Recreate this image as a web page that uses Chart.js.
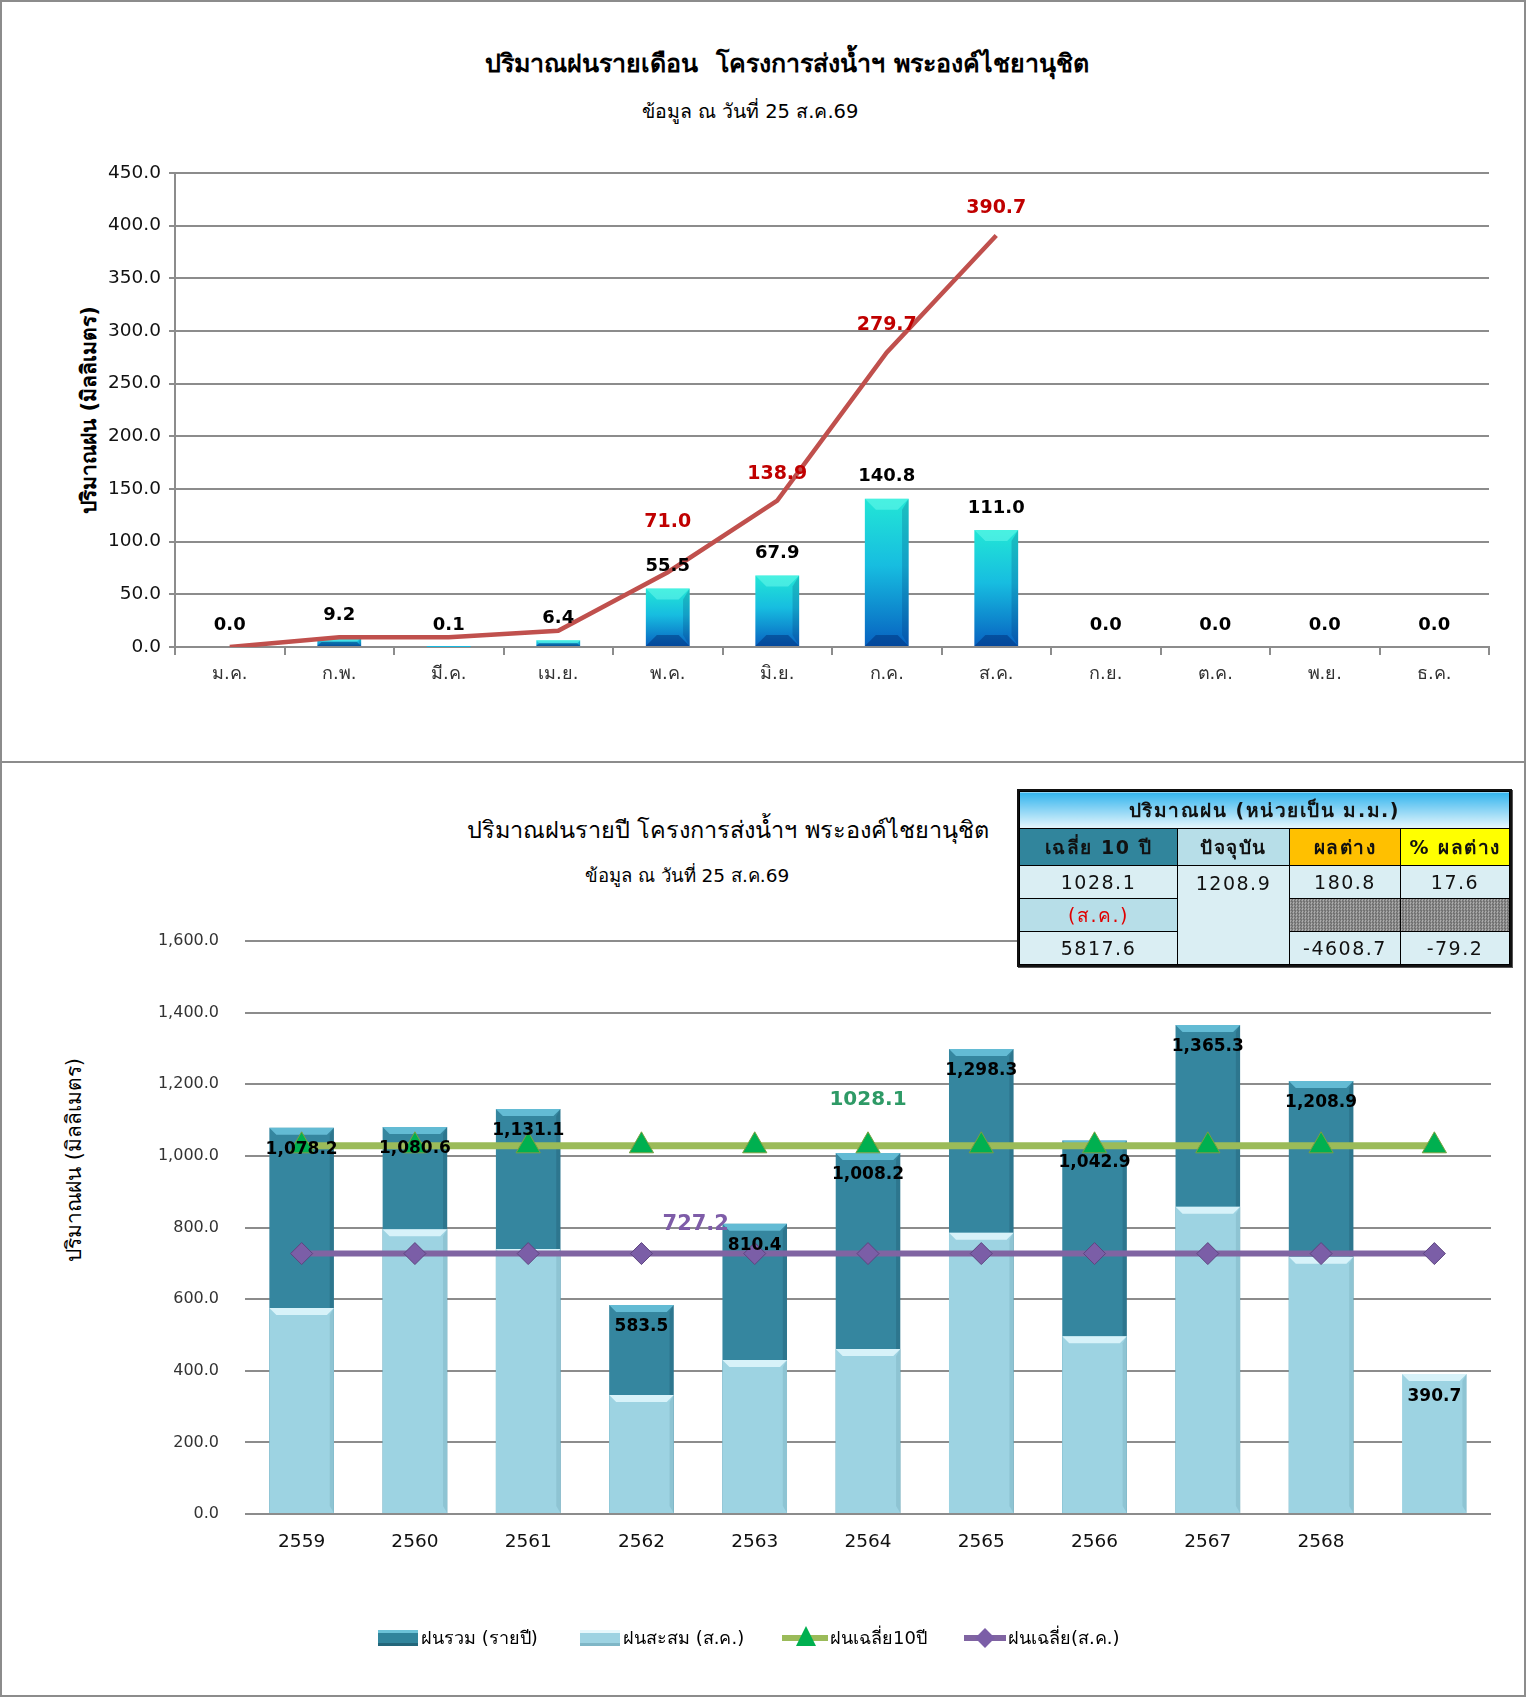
<!DOCTYPE html>
<html>
<head>
<meta charset="utf-8">
<script src="https://cdn.jsdelivr.net/npm/chart.js@4.4.1/dist/chart.umd.min.js"></script>
<style>
  body { margin: 0; background: #fff; font-family: Tahoma, "DejaVu Sans", sans-serif; }
  #page { position: relative; width: 1526px; height: 1697px; box-sizing: border-box; border: 2px solid #8c8c8c; overflow: hidden; }
  .abs { position: absolute; }
  .sep { left: 0; top: 759px; width: 1526px; height: 2px; background: #8c8c8c; }
  .title { text-align: center; white-space: nowrap; color: #000; }
  .ytitle { transform: translate(-50%, -50%) rotate(-90deg); white-space: nowrap; }
  canvas { position: absolute; }
  table { border-collapse: collapse; width: 100%; height: 100%; font-size: 19px; letter-spacing: 1.5px; }
  td { border: 1px solid #000; text-align: center; padding: 0; color: #111; }
  #tbl { left: 1015px; top: 787px; width: 491px; height: 174px; border: 2px solid #111; box-shadow: 1px 1px 0 #555; }
  .hatch { background: repeating-conic-gradient(#555 0 25%, #c8c8c8 0 50%) 0 0 / 3px 3px; }
  #legend { left: 0; top: 1621px; width: 1526px; height: 30px; }
  .lg { position: absolute; top: 0; font-size: 18px; line-height: 30px; white-space: nowrap; }
</style>
</head>
<body>
<div id="page">
  <div class="abs sep"></div>

  <div class="abs title" style="left:385px; top:41px; width:800px; font-size:25px; font-weight:bold;">ปริมาณฝนรายเดือน&nbsp; โครงการส่งน้ำฯ พระองค์ไชยานุชิต</div>
  <div class="abs title" style="left:548px; top:94px; width:400px; font-size:19.5px;">ข้อมูล ณ วันที่ 25 ส.ค.69</div>
  <div class="abs ytitle" style="left:86px; top:408px; font-size:21px; font-weight:bold;">ปริมาณฝน (มิลลิเมตร)</div>
  <canvas id="monthChart" width="1526" height="758" style="left:0; top:0;"></canvas>

  <div class="abs title" style="left:426px; top:809px; width:600px; font-size:23.5px;">ปริมาณฝนรายปี โครงการส่งน้ำฯ พระองค์ไชยานุชิต</div>
  <div class="abs title" style="left:535px; top:859px; width:300px; font-size:18.5px;">ข้อมูล ณ วันที่ 25 ส.ค.69</div>
  <div class="abs ytitle" style="left:71px; top:1158px; font-size:21px;">ปริมาณฝน (มิลลิเมตร)</div>
  <canvas id="yearChart" width="1522" height="935" style="left:0; top:761px;"></canvas>

  <div class="abs" id="tbl">
    <table>
      <tr style="height:37px;"><td colspan="4" style="background:linear-gradient(#33b4ee,#e8f7fc); font-weight:bold;">ปริมาณฝน (หน่วยเป็น ม.ม.)</td></tr>
      <tr style="height:37px; font-weight:bold;">
        <td style="background:#31859c; width:157px;">เฉลี่ย 10 ปี</td>
        <td style="background:#b7dee8; width:111px;">ปัจจุบัน</td>
        <td style="background:#ffc000; width:110px;">ผลต่าง</td>
        <td style="background:#ffff00;">% ผลต่าง</td>
      </tr>
      <tr style="height:32px;">
        <td style="background:#daeef3;">1028.1</td>
        <td rowspan="3" style="background:#daeef3; vertical-align:top; padding-top:6px;">1208.9</td>
        <td style="background:#daeef3;">180.8</td>
        <td style="background:#daeef3;">17.6</td>
      </tr>
      <tr style="height:33px;">
        <td style="background:#b7dee8; color:#e00000;">(ส.ค.)</td>
        <td class="hatch"></td>
        <td class="hatch"></td>
      </tr>
      <tr style="height:33px;">
        <td style="background:#daeef3;">5817.6</td>
        <td style="background:#daeef3;">-4608.7</td>
        <td style="background:#daeef3;">-79.2</td>
      </tr>
    </table>
  </div>

  <div class="abs" id="legend">
    <div class="lg" style="left:376px; top:7px; width:40px; height:16px; background:linear-gradient(#6cc3d8 0 20%, #31859c 20% 80%, #23667a 80%);"></div>
    <div class="lg" style="left:419px;">ฝนรวม (รายปี)</div>
    <div class="lg" style="left:578px; top:7px; width:40px; height:16px; background:linear-gradient(#e6f8fc 0 20%, #9dd3e2 20% 80%, #7fb6c6 80%);"></div>
    <div class="lg" style="left:621px;">ฝนสะสม (ส.ค.)</div>
    <div class="lg" style="left:780px; top:12px; width:46px; height:6px; background:#9bbb59;"></div>
    <div class="lg" style="left:794px; top:3px; width:0; height:0; border-left:10px solid transparent; border-right:10px solid transparent; border-bottom:20px solid #00b050;"></div>
    <div class="lg" style="left:828px;">ฝนเฉลี่ย10ปี</div>
    <div class="lg" style="left:962px; top:12px; width:42px; height:6px; background:#8064a2;"></div>
    <div class="lg" style="left:976px; top:8px; width:14px; height:14px; transform:rotate(45deg); background:#7b5ea7;"></div>
    <div class="lg" style="left:1006px;">ฝนเฉลี่ย(ส.ค.)</div>
  </div>
</div>

<script>
// monthly chart data
const months = ["ม.ค.", "ก.พ.", "มี.ค.", "เม.ย.", "พ.ค.", "มิ.ย.", "ก.ค.", "ส.ค.", "ก.ย.", "ต.ค.", "พ.ย.", "ธ.ค."];
const monthlyRain = [0.0, 9.2, 0.1, 6.4, 55.5, 67.9, 140.8, 111.0, 0.0, 0.0, 0.0, 0.0];
const cumulativeRain = [0.0, 9.2, 9.3, 15.5, 71.0, 138.9, 279.7, 390.7, null, null, null, null];
const cumulativeLabelIdx = [4, 5, 6, 7];

// yearly chart data
const years = ["2559", "2560", "2561", "2562", "2563", "2564", "2565", "2566", "2567", "2568", ""];
const annualRain = [1078.2, 1080.6, 1131.1, 583.5, 810.4, 1008.2, 1298.3, 1042.9, 1365.3, 1208.9, null];
const augustRain = [575, 795, 740, 332, 430, 461, 785, 496, 858, 718, 390.7];
const avg10Years = [1028.1, 1028.1, 1028.1, 1028.1, 1028.1, 1028.1, 1028.1, 1028.1, 1028.1, 1028.1, 1028.1];
const avgAugust = [727.2, 727.2, 727.2, 727.2, 727.2, 727.2, 727.2, 727.2, 727.2, 727.2, 727.2];

const FONT = "Tahoma, 'DejaVu Sans', sans-serif";
Chart.defaults.font.family = FONT;
Chart.defaults.animation = false;

const fmt1 = v => v.toFixed(1);
const fmtComma = v => v.toLocaleString("en-US", { minimumFractionDigits: 1, maximumFractionDigits: 1 });


// value labels drawn from element positions

const valueLabels = {
    id: "valueLabels",
    afterDatasetsDraw(chart) {
        const ctx = chart.ctx;
        chart.data.datasets.forEach((ds, i) => {
            const lb = ds.valueLabels;
            if (!lb) return;
            const meta = chart.getDatasetMeta(i);
            meta.data.forEach((el, j) => {
                const v = ds.data[j];
                if (v == null) return;
                if (lb.only && !lb.only.includes(j)) return;
                const dy = typeof lb.dy === "function" ? lb.dy(j) : lb.dy;
                ctx.save();
                ctx.font = lb.font;
                ctx.fillStyle = lb.color;
                ctx.textAlign = "center";
                ctx.textBaseline = "middle";
                ctx.fillText(lb.format(v), el.x + (lb.dx || 0), el.y + dy);
                ctx.restore();
            });
        });
    }
};


// bevel look on bars

const bevel = {
    id: "bevel",
    afterDatasetDraw(chart, args) {
        const ds = chart.data.datasets[args.index];
        const bv = ds.bevel;
        if (!bv) return;
        const ctx = chart.ctx;
        args.meta.data.forEach((el, j) => {
            if (ds.data[j] == null) return;
            const { x, y, base, width } = el.getProps(["x", "y", "base", "width"], true);
            const h = base - y;
            if (h < 2) return;
            const b = Math.min(bv.size, h / 2);
            const l = x - width / 2, r = x + width / 2;
            ctx.save();
            ctx.fillStyle = bv.top;
            ctx.beginPath();
            ctx.moveTo(l, y); ctx.lineTo(r, y); ctx.lineTo(r - b, y + b); ctx.lineTo(l + b, y + b);
            ctx.closePath(); ctx.fill();
            ctx.fillStyle = bv.side;
            ctx.beginPath();
            ctx.moveTo(r, y); ctx.lineTo(r, base); ctx.lineTo(r - b * 0.6, base - b); ctx.lineTo(r - b * 0.6, y + b);
            ctx.closePath(); ctx.fill();
            ctx.fillStyle = bv.bottom;
            ctx.beginPath();
            ctx.moveTo(l, base); ctx.lineTo(r, base); ctx.lineTo(r - b, base - b); ctx.lineTo(l + b, base - b);
            ctx.closePath(); ctx.fill();
            ctx.restore();
        });
    }
};

function barGradient(ctx) {
    const chart = ctx.chart;
    const y = chart.scales.y;
    if (!y || !ctx.parsed) return "#18b8de";
    const top = y.getPixelForValue(ctx.parsed.y);
    const base = y.getPixelForValue(0);
    if (!isFinite(top) || !isFinite(base) || base - top < 1) return "#18b8de";
    const g = chart.ctx.createLinearGradient(0, top, 0, base);
    g.addColorStop(0, "#22e6d6");
    g.addColorStop(0.45, "#17bde0");
    g.addColorStop(1, "#0760c0");
    return g;
}


// MONTHLY CHART

new Chart(document.getElementById("monthChart"), {
    type: "bar",
    data: {
        labels: months,
        datasets: [
            {
                type: "line",
                data: cumulativeRain,
                borderColor: "#c0504d",
                borderWidth: 4.5,
                pointRadius: 0,
                tension: 0,
                order: 0,
                valueLabels: {
                    only: cumulativeLabelIdx,
                    font: "bold 19px " + FONT,
                    color: "#c00000",
                    dy: j => (j === 4 ? -50 : -27),
                    format: fmt1
                }
            },
            {
                data: monthlyRain,
                backgroundColor: barGradient,
                barPercentage: 0.8,
                categoryPercentage: 0.5,
                order: 1,
                bevel: { size: 11, top: "rgba(120,255,240,0.45)", bottom: "rgba(0,40,110,0.45)", side: "rgba(0,30,90,0.18)" },
                valueLabels: { font: "bold 18px " + FONT, color: "#000", dy: -22, format: fmt1 }
            }
        ]
    },
    options: {
        responsive: false,
        devicePixelRatio: 1,
        layout: { padding: { top: 171, right: 39, bottom: 53, left: 0 } },
        plugins: { legend: { display: false }, tooltip: { enabled: false } },
        scales: {
            x: {
                grid: { display: true, drawOnChartArea: false, offset: true, tickLength: 8, color: "#8c8c8c", lineWidth: 2 },
                border: { color: "#8c8c8c", width: 2 },
                ticks: { font: { size: 18 }, color: "#333", padding: 9 },
                afterFit: s => { s.height = 60; }
            },
            y: {
                min: 0,
                max: 450,
                ticks: { stepSize: 50, callback: v => fmt1(v), font: { size: 18.5 }, color: "#111", padding: 8 },
                grid: { color: "#8c8c8c", lineWidth: 2, tickLength: 6 },
                border: { color: "#8c8c8c", width: 2 },
                afterFit: s => { s.width = 173; }
            }
        }
    },
    plugins: [bevel, valueLabels]
});


// YEARLY CHART

new Chart(document.getElementById("yearChart"), {
    type: "bar",
    data: {
        labels: years,
        datasets: [
            {
                type: "line",
                data: avg10Years,
                borderColor: "#9bbb59",
                borderWidth: 7,
                pointStyle: "triangle",
                pointRadius: 14,
                pointBackgroundColor: "#00b050",
                pointBorderColor: "#7aa040",
                pointBorderWidth: 1,
                order: 0,
                valueLabels: { only: [5], font: "bold 20px " + FONT, color: "#2e9a66", dy: -46, format: fmt1 }
            },
            {
                type: "line",
                data: avgAugust,
                borderColor: "#8064a2",
                borderWidth: 6,
                pointStyle: "rectRot",
                pointRadius: 11,
                pointBackgroundColor: "#7b5ea7",
                pointBorderColor: "#5e4580",
                pointBorderWidth: 1,
                order: 0,
                valueLabels: { only: [4], font: "bold 21px " + FONT, color: "#7e5ca8", dx: -59, dy: -29, format: fmt1 }
            },
            {
                data: augustRain,
                backgroundColor: "#9dd3e2",
                grouped: false,
                barPercentage: 0.95,
                categoryPercentage: 0.6,
                order: 1,
                bevel: { size: 7, top: "rgba(230,250,255,0.8)", bottom: "rgba(0,0,0,0)", side: "rgba(40,90,110,0.12)" },
                valueLabels: { only: [10], font: "bold 17px " + FONT, color: "#000", dy: 22, format: fmtComma }
            },
            {
                data: annualRain,
                backgroundColor: "#35869f",
                grouped: false,
                barPercentage: 0.95,
                categoryPercentage: 0.6,
                order: 2,
                bevel: { size: 7, top: "rgba(120,210,235,0.7)", bottom: "rgba(0,0,0,0)", side: "rgba(0,30,50,0.15)" },
                valueLabels: { font: "bold 17px " + FONT, color: "#000", dy: 22, format: fmtComma }
            }
        ]
    },
    options: {
        responsive: false,
        devicePixelRatio: 1,
        layout: { padding: { top: 178, right: 33, bottom: 124, left: 0 } },
        plugins: { legend: { display: false }, tooltip: { enabled: false } },
        scales: {
            x: {
                grid: { display: false },
                border: { display: false },
                ticks: { font: { size: 18.5 }, color: "#111", padding: 9 },
                afterFit: s => { s.height = 60; }
            },
            y: {
                min: 0,
                max: 1600,
                ticks: { stepSize: 200, callback: v => fmtComma(v), font: { size: 16 }, color: "#333", padding: 26 },
                grid: { color: "#8c8c8c", lineWidth: 2, drawTicks: false },
                border: { display: false },
                afterFit: s => { s.width = 243; }
            }
        }
    },
    plugins: [bevel, valueLabels]
});
</script>
</body>
</html>
